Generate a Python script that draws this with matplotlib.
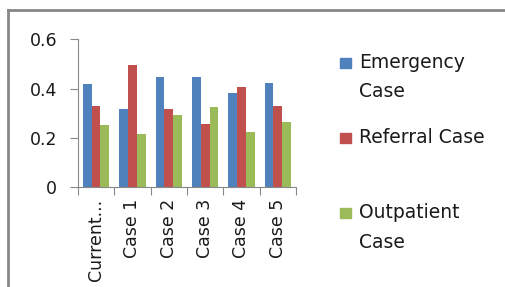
import numpy as np
import matplotlib.pyplot as plt
from matplotlib.patches import Rectangle
from matplotlib.lines import Line2D

plt.rcParams['font.family'] = ['DejaVu Sans']

categorias = ['Current...', 'Case 1', 'Case 2', 'Case 3', 'Case 4', 'Case 5']
series = ['Emergency\nCase', 'Referral Case', 'Outpatient\nCase']
emergencia = [0.418, 0.319, 0.448, 0.448, 0.381, 0.423]
referencia = [0.330, 0.496, 0.319, 0.255, 0.407, 0.330]
ambulatorio = [0.251, 0.215, 0.292, 0.324, 0.225, 0.266]
colores = ['#4F81BD', '#C0504D', '#9BBB59']

fig = plt.figure(figsize=(5.06, 2.87), dpi=100)
ax = fig.add_axes([0.154, 0.3474, 0.431, 0.5156])

x = np.arange(len(categorias))
ancho = 0.24
for i, (vals, c) in enumerate(zip([emergencia, referencia, ambulatorio], colores)):
    ax.bar(x + (i - 1) * ancho, vals, ancho, color=c)

ax.set_xlim(-0.5, len(categorias) - 0.5)
ax.set_ylim(0, 0.6)
ax.set_yticks([0, 0.2, 0.4, 0.6])
ax.set_yticklabels(['0', '0.2', '0.4', '0.6'])
ax.set_xticks(x)
ax.set_xticklabels(categorias, rotation=90)
ax.set_xticks(np.arange(len(categorias) + 1) - 0.5, minor=True)
ax.tick_params(axis='x', which='major', length=0, pad=8, labelsize=12.5, labelcolor='#1a1a1a')
ax.tick_params(axis='x', which='minor', length=6, width=0.8, color='#888888', direction='out')
ax.tick_params(axis='y', length=6, width=0.8, color='#888888', pad=9, labelsize=12.5, labelcolor='#1a1a1a')

for s in ['top', 'right']:
    ax.spines[s].set_visible(False)
for s in ['left', 'bottom']:
    ax.spines[s].set_color('#888888')
    ax.spines[s].set_linewidth(0.8)

# leyenda manual
ys = [63, 138, 213]
for nombre, c, yy in zip(series, colores, ys):
    fy = 1 - yy / 287
    fig.patches.append(Rectangle((340 / 506, fy - 5 / 287), 11 / 506, 10 / 287,
                                 transform=fig.transFigure, color=c))
    fig.text(359 / 506, fy + 10 / 287, nombre, va='top', ha='left', fontsize=13.5,
             color='#1a1a1a', linespacing=1.7)

# marco exterior
fig.add_artist(Line2D([8 / 506, 1], [1 - 10 / 287, 1 - 10 / 287], transform=fig.transFigure,
                      color='#888888', lw=2))
fig.add_artist(Line2D([8 / 506, 8 / 506], [0, 1 - 10 / 287], transform=fig.transFigure,
                      color='#888888', lw=2))

fig.savefig('out.png', dpi=100)
